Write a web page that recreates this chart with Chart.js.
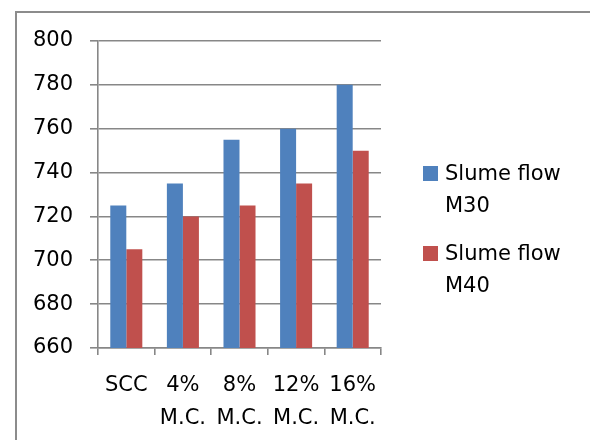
<!DOCTYPE html>
<html>
<head>
<meta charset="utf-8">
<script src="https://cdn.jsdelivr.net/npm/chart.js@4/dist/chart.umd.min.js"></script>
<style>
  html, body { margin: 0; padding: 0; background: #fff; }
  #wrap { position: relative; width: 590px; height: 440px; }
</style>
</head>
<body>
<div id="wrap"><canvas id="c" width="590" height="440"></canvas></div>
<script>
// Slump flow (mm) for SCC mixes with increasing M.C. content
const categories = [['SCC'], ['4%', 'M.C.'], ['8%', 'M.C.'], ['12%', 'M.C.'], ['16%', 'M.C.']];
const seriesNames = [['Slume flow', 'M30'], ['Slume flow', 'M40']];
const flowM30 = [725, 735, 755, 760, 780];
const flowM40 = [705, 720, 725, 735, 750];
const yTicks = { min: 660, max: 800, step: 20 };

const FONT = 'DejaVu Sans, sans-serif';
const FONT_SIZE = 21;
const GREY = '#878787';

// Outer frame (top and left edges of the chart box)
const framePlugin = {
  id: 'frame',
  beforeDraw(chart) {
    const ctx = chart.ctx;
    ctx.save();
    ctx.strokeStyle = '#8c8c8c';
    ctx.lineWidth = 2;
    ctx.beginPath();
    ctx.moveTo(590, 12);
    ctx.lineTo(16, 12);
    ctx.lineTo(16, 440);
    ctx.stroke();
    ctx.restore();
  }
};

// Right-hand legend with two-line entries
const sideLegend = {
  id: 'sideLegend',
  afterDraw(chart) {
    const ctx = chart.ctx;
    ctx.save();
    ctx.font = FONT_SIZE + 'px ' + FONT;
    ctx.textBaseline = 'alphabetic';
    ctx.textAlign = 'left';
    chart.data.datasets.forEach((ds, i) => {
      const top = 166 + i * 80;
      ctx.fillStyle = ds.backgroundColor;
      ctx.fillRect(423, top, 15, 15);
      ctx.fillStyle = '#000';
      ds.label.forEach((line, j) => {
        ctx.fillText(line, 445, top + 14 + j * 32);
      });
    });
    ctx.restore();
  }
};

new Chart(document.getElementById('c'), {
  type: 'bar',
  data: {
    labels: categories,
    datasets: [
      { label: seriesNames[0], data: flowM30, backgroundColor: '#4f81bd',
        categoryPercentage: 0.566, barPercentage: 1.0 },
      { label: seriesNames[1], data: flowM40, backgroundColor: '#c0504d',
        categoryPercentage: 0.566, barPercentage: 1.0 }
    ]
  },
  options: {
    responsive: false,
    animation: false,
    layout: { padding: { left: 0, top: 41, right: 209, bottom: 0 } },
    plugins: {
      legend: { display: false },
      tooltip: { enabled: false }
    },
    scales: {
      x: {
        grid: { drawOnChartArea: false, drawTicks: true, tickLength: 7, color: GREY, lineWidth: 1.6 },
        border: { color: GREY, width: 1.6 },
        ticks: { color: '#000', font: { family: FONT, size: FONT_SIZE, lineHeight: 1.57 }, padding: 14, maxRotation: 0, autoSkip: false },
        afterFit(s) { s.height = 92; }
      },
      y: {
        min: yTicks.min, max: yTicks.max,
        grid: { color: GREY, lineWidth: 1.6, drawTicks: true, tickLength: 8 },
        border: { color: GREY, width: 1.6 },
        ticks: { stepSize: yTicks.step, color: '#000', font: { family: FONT, size: FONT_SIZE }, padding: 17 },
        afterFit(s) { s.width = 98; }
      }
    }
  },
  plugins: [framePlugin, sideLegend]
});
</script>
</body>
</html>
